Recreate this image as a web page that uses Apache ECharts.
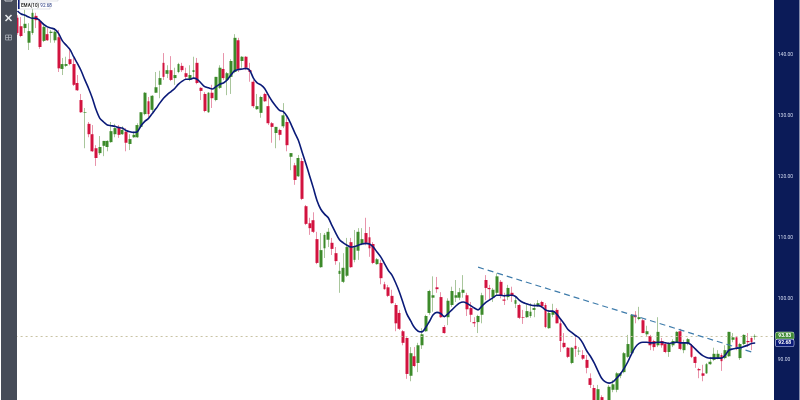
<!DOCTYPE html>
<html>
<head>
<meta charset="utf-8">
<style>
html,body{margin:0;padding:0;background:#fff;}
#main{width:800px;height:400px;filter:blur(0.35px);}
</style>
<script src="https://cdn.jsdelivr.net/npm/echarts@6/dist/echarts.min.js"></script>
</head>
<body>
<div id="main"></div>
<script>
// 价格数据
var opens = [
146.0,144.6,144.3,141.9,143.5,146.3,145.5,142.2,143.3,143.5,
142.3,142.8,137.6,138.1,139.2,138.4,135.3,132.5,130.4,128.6,
126.9,124.6,123.8,125.0,124.8,125.6,126.9,128.1,126.9,127.3,
125.3,126.4,126.4,128.1,130.2,132.3,130.9,133.7,135.0,138.6,
136.8,137.4,136.1,137.1,138.1,136.9,135.8,137.1,138.6,134.5,
133.5,130.5,133.7,132.5,134.5,137.6,135.8,136.3,137.1,142.3,
138.9,139.6,137.4,135.5,131.0,130.4,133.5,131.5,128.7,127.1,
127.6,128.2,128.9,123.2,121.8,120.0,122.5,115.1,112.3,112.8,
109.7,105.1,108.2,109.6,109.1,107.4,104.0,102.7,103.7,109.2,
106.3,107.8,108.9,110.7,110.0,108.9,105.6,105.8,102.3,101.8,
100.4,98.9,97.6,94.6,93.5,87.3,90.5,89.4,92.3,94.6,
97.6,100.1,101.8,100.2,95.3,96.9,98.9,100.1,100.1,100.9,
100.5,98.4,96.1,96.1,97.3,103.0,101.7,100.2,100.9,102.7,
99.8,100.2,100.9,99.1,98.9,96.9,96.9,97.1,98.1,98.7,
99.4,98.9,95.1,97.3,98.1,95.9,92.7,91.9,89.4,92.2,
91.3,90.7,89.9,86.9,85.3,83.0,83.8,83.0,83.0,85.0,
85.0,87.3,87.9,90.4,91.0,97.3,96.6,96.4,94.1,93.8,
93.0,92.3,93.0,92.5,91.2,92.3,92.8,94.6,91.5,92.5,
92.3,90.4,88.4,87.7,87.7,89.2,89.9,90.2,90.7,90.2,
90.5,93.2,93.6,90.2,92.5,93.0,93.5,93.7
];
var closes = [
143.5,143.0,145.0,143.8,146.8,145.6,141.2,144.5,142.3,143.7,
143.7,137.7,138.4,138.4,138.4,135.0,134.1,130.5,130.5,126.9,
124.1,123.0,124.8,125.8,125.8,127.4,127.9,126.8,127.6,125.5,
126.1,126.8,128.4,130.5,133.7,130.2,133.2,134.6,136.1,136.3,
137.4,135.8,136.6,138.4,137.4,136.3,136.6,137.4,135.3,134.0,
130.7,133.7,132.8,136.3,137.8,136.1,136.9,138.9,142.7,137.6,
139.6,137.8,137.1,131.5,131.5,133.0,132.3,128.7,128.1,128.1,
126.8,130.0,125.1,123.8,119.4,123.0,116.3,112.2,111.5,110.9,
105.8,107.9,110.4,110.9,108.1,106.1,104.5,105.0,108.4,105.1,
108.4,110.9,109.7,109.1,108.2,105.8,106.4,103.3,101.5,100.4,
99.2,95.9,95.0,92.7,87.6,91.0,88.9,92.3,94.1,97.1,
101.2,100.5,101.5,96.9,94.3,99.6,101.2,100.5,101.0,101.4,
98.2,97.3,95.9,97.1,100.5,101.7,101.5,101.4,103.6,100.5,
99.6,101.7,100.5,99.7,96.8,96.8,97.9,97.8,98.4,99.2,
98.7,95.3,97.6,97.9,95.9,93.0,92.0,90.4,91.9,91.7,
91.4,90.1,88.6,85.8,83.3,85.1,82.7,81.7,85.5,85.9,
87.7,87.7,91.0,92.5,97.3,96.9,96.9,94.3,94.6,92.3,
92.0,94.5,92.3,91.2,92.5,93.0,94.5,91.7,92.8,93.3,
90.4,89.4,88.2,87.3,89.2,89.6,90.9,90.9,89.7,91.5,
94.5,93.6,91.7,92.5,94.0,92.8,92.8,93.83
];
var lows = [
143.2,142.8,143.5,140.7,143.2,144.3,140.9,142.0,142.2,141.9,
141.9,137.1,136.6,137.9,138.2,134.8,134.0,130.4,124.6,126.4,
124.0,121.7,123.5,123.3,124.1,125.5,126.4,126.3,126.8,124.1,
124.3,126.3,126.3,127.9,130.0,129.7,130.5,133.7,132.8,135.8,
136.1,135.6,135.0,136.9,137.1,135.8,135.6,136.1,135.1,132.5,
130.5,130.4,131.2,132.3,134.3,135.8,133.3,133.5,136.9,137.1,
137.8,137.4,135.5,131.2,130.9,129.6,132.2,128.4,125.5,124.6,
125.9,127.9,124.1,121.0,118.6,119.9,116.1,112.0,110.4,110.7,
105.6,105.0,106.6,108.4,107.1,105.5,100.9,102.5,103.5,105.0,
105.9,106.3,108.7,108.7,106.8,105.6,105.5,102.3,101.4,100.2,
99.1,94.6,94.8,92.3,86.8,86.4,88.7,87.9,91.7,94.5,
97.3,97.8,100.9,96.8,94.2,95.6,98.6,99.4,99.7,100.1,
97.1,96.1,95.3,94.3,95.9,99.7,99.7,99.4,100.5,100.0,
98.9,99.7,99.4,98.4,96.6,95.8,96.8,96.8,96.9,98.6,
98.4,95.1,95.0,96.9,95.9,91.2,91.8,90.2,89.2,90.4,
90.7,89.9,87.7,85.3,83.0,82.7,82.3,81.4,82.8,84.6,
84.6,86.9,87.7,90.2,90.9,95.9,96.4,94.3,93.7,91.5,
91.4,92.0,91.9,91.0,90.4,92.0,92.7,91.5,91.0,92.3,
90.2,88.6,86.9,86.4,87.6,89.1,89.7,90.0,88.1,90.0,
90.4,92.8,91.5,89.9,92.3,92.0,91.5,93.2
];
var highs = [
146.4,146.1,147.3,145.1,147.6,146.8,145.8,145.1,144.3,144.0,
144.3,144.0,139.4,139.6,141.0,139.4,136.6,133.5,131.2,128.9,
128.4,125.1,126.6,125.8,125.9,128.9,128.6,128.4,128.2,127.9,
126.9,127.3,128.7,130.5,133.8,133.0,133.3,137.1,137.3,140.2,
138.2,139.7,137.8,138.6,138.6,137.8,138.2,139.6,139.4,134.6,
133.8,133.8,135.0,136.3,138.2,140.2,137.1,139.2,143.3,142.7,
139.7,139.7,138.6,135.8,133.5,133.2,133.7,133.3,128.9,128.1,
127.8,132.0,129.7,123.8,122.2,123.5,123.0,115.3,113.2,114.1,
110.9,110.7,110.7,111.5,109.9,108.4,105.9,107.4,109.9,109.9,
111.2,111.5,111.5,113.2,111.7,109.2,106.6,106.3,102.7,102.2,
101.4,99.2,98.1,94.8,93.6,92.0,92.0,92.7,95.1,97.3,
101.4,103.6,103.5,101.0,95.6,100.0,101.9,103.0,101.7,103.8,
100.9,99.4,96.9,97.3,100.9,103.8,102.2,101.7,104.1,103.0,
100.9,102.2,101.9,100.2,99.1,98.1,99.2,99.2,99.2,99.7,
99.6,99.2,98.1,99.1,98.4,96.8,94.3,92.0,92.0,93.6,
92.0,91.5,90.7,87.7,85.8,85.8,84.1,83.1,85.8,86.6,
87.9,87.9,91.2,94.0,97.3,97.9,98.6,96.6,95.5,94.0,
93.2,96.9,93.5,92.7,92.8,93.3,94.6,95.0,93.2,93.5,
92.5,90.5,88.6,89.1,89.4,90.4,91.9,91.5,91.0,92.3,
94.5,94.3,93.8,92.7,94.1,94.3,93.6,94.1
];
var ema10 = [
147.1,146.6,146.4,146.1,145.9,145.9,145.5,144.9,144.5,144.3,
144.1,143.4,142.2,141.5,140.8,139.6,138.5,137.3,135.8,134.4,
132.8,130.9,129.5,128.9,128.4,128.3,128.2,128.0,127.9,127.5,
127.3,127.2,127.3,128.3,129.0,129.5,130.3,131.1,132.0,132.8,
133.4,133.9,134.4,135.1,135.6,135.9,135.9,136.1,135.9,135.3,
134.7,134.5,134.3,134.7,135.1,135.3,135.8,136.6,137.3,137.5,
137.6,137.7,137.4,136.1,135.3,135.0,134.4,133.3,132.3,131.5,
130.8,130.6,129.8,128.6,127.2,125.9,124.0,122.1,120.1,118.1,
116.0,114.6,113.8,113.2,111.9,110.7,109.6,109.1,108.7,108.4,
108.5,108.7,108.9,109.0,108.9,108.4,107.6,106.8,105.7,104.6,
103.8,102.5,101.0,99.2,97.4,96.3,95.2,94.6,94.5,95.2,
96.2,97.3,97.7,97.5,97.0,97.5,98.1,98.7,99.2,99.4,
99.2,98.8,98.4,98.1,98.7,99.3,99.7,100.1,100.5,100.5,
100.4,100.5,100.5,100.3,99.7,99.3,99.1,98.9,98.8,98.8,
98.6,98.1,97.9,97.9,97.4,96.6,95.8,94.9,94.4,93.9,
93.5,92.6,91.4,90.5,89.4,88.1,86.9,86.3,86.1,86.3,
86.9,87.6,88.5,89.6,90.9,92.0,92.6,92.8,92.8,92.7,
92.7,92.8,92.8,92.7,92.6,92.7,92.8,92.7,92.7,92.7,
92.3,91.7,91.1,90.6,90.3,90.2,90.2,90.2,90.2,90.7,
91.5,91.7,91.8,91.9,92.1,92.3,92.6,92.68
];
var lastPrice = 93.83;
var lastEma = 92.68;
// 趋势线: 起点和终点 [序号, 价格]
var trendStart = [123, 105.1];
var trendEnd = [196, 91.2];
var yMin = 80, yMax = 150, yStep = 10;

var slots = 203; // 右侧留几根空位
var categories = [];
for (var i = 0; i < slots; i++) {
	categories.push(String(i));
}
var wickData = [], bodyData = [];
for (var j = 0; j < opens.length; j++) {
	wickData.push([opens[j], closes[j], lows[j], highs[j]]);
	bodyData.push([opens[j], closes[j], Math.min(opens[j], closes[j]), Math.max(opens[j], closes[j])]);
}

var green = '#3c8a2a', red = '#d2133f', navy = '#0a1a78';
var myChart = echarts.init(document.getElementById('main'), null, {renderer: 'canvas'});
var option = {
	animation: false,
	backgroundColor: '#fff',
	grid: {left: 15.6, top: -6.7, width: 760.2, height: 427, outerBoundsMode: 'none', containLabel: false},
	xAxis: {
		type: 'category',
		data: categories,
		show: false
	},
	yAxis: {
		type: 'value',
		position: 'right',
		min: yMin,
		max: yMax,
		interval: yStep,
		z: 10,
		axisLine: {show: false},
		axisTick: {show: false},
		splitLine: {show: false},
		axisLabel: {
			color: '#cdd5ec',
			fontSize: 5,
			fontFamily: 'Roboto',
			margin: 2,
			formatter: function (v) { return v.toFixed(2); }
		}
	},
	series: [
		{
			// 影线
			type: 'candlestick',
			data: wickData,
			barWidth: 1,
			itemStyle: {
				color: '#a9c69c', color0: '#e894ab',
				borderColor: '#a9c69c', borderColor0: '#e894ab',
				borderWidth: 1
			},
			markLine: {
				silent: true,
				symbol: 'none',
				animation: false,
				data: [
					{
						yAxis: lastPrice,
						lineStyle: {color: '#c9c3a4', type: [2, 3], width: 1},
						label: {
							show: true, position: 'end', formatter: lastPrice.toFixed(2),
							color: '#fff', fontSize: 5, fontWeight: 'bold', fontFamily: 'Roboto',
							backgroundColor: '#3f8a35', borderColor: '#bcd8b0', borderWidth: 0.6,
							borderRadius: 1.5, padding: [1, 2.5], distance: 0
						}
					},
					{
						yAxis: lastEma,
						lineStyle: {color: 'rgba(0,0,0,0)'},
						label: {
							show: true, position: 'end', formatter: lastEma.toFixed(2),
							color: '#fff', fontSize: 5, fontWeight: 'bold', fontFamily: 'Roboto',
							backgroundColor: navy, borderColor: '#d5dcf2', borderWidth: 0.6,
							borderRadius: 1.5, padding: [1, 2.5], distance: 0
						}
					},
					[
						{coord: trendStart, lineStyle: {color: '#3f7cab', type: [6, 4], width: 1.2}, label: {show: false}},
						{coord: trendEnd}
					]
				]
			}
		},
		{
			// 实体
			type: 'candlestick',
			data: bodyData,
			barWidth: 3.4,
			itemStyle: {
				color: green, color0: red,
				borderColor: green, borderColor0: red,
				borderWidth: 0
			}
		},
		{
			name: 'EMA(10)',
			type: 'line',
			data: ema10,
			showSymbol: false,
			smooth: 0.3,
			z: 5,
			lineStyle: {color: navy, width: 1.6}
		}
	],
	graphic: [
		// 右侧价格轴底色
		{type: 'rect', z: 0, shape: {x: 774, y: 0, width: 25.5, height: 400}, style: {fill: '#0b1b58'}},
		// 左侧工具栏
		{type: 'rect', z: 20, shape: {x: 1, y: 0, width: 16, height: 400}, style: {fill: '#464c58'}},
		{type: 'rect', z: 21, shape: {x: 5, y: -2, width: 7, height: 3}, style: {fill: 'none', stroke: '#c9ccd2', lineWidth: 1}},
		{type: 'line', z: 21, shape: {x1: 5.5, y1: 15, x2: 11.5, y2: 21}, style: {stroke: '#e6e8ec', lineWidth: 1.6}},
		{type: 'line', z: 21, shape: {x1: 11.5, y1: 15, x2: 5.5, y2: 21}, style: {stroke: '#e6e8ec', lineWidth: 1.6}},
		{type: 'rect', z: 21, shape: {x: 5.5, y: 35, width: 6, height: 5}, style: {fill: 'none', stroke: '#b5b9c1', lineWidth: 0.7}},
		{type: 'line', z: 21, shape: {x1: 8.5, y1: 35, x2: 8.5, y2: 40}, style: {stroke: '#b5b9c1', lineWidth: 0.7}},
		{type: 'line', z: 21, shape: {x1: 5.5, y1: 37.5, x2: 11.5, y2: 37.5}, style: {stroke: '#b5b9c1', lineWidth: 0.7}},
		// 图例
		{type: 'rect', z: 21, shape: {x: 18, y: -6, width: 40, height: 7}, style: {fill: '#fff', stroke: '#cfd2d8', lineWidth: 0.6}},
		{type: 'rect', z: 21, shape: {x: 18, y: 3, width: 32, height: 6}, style: {fill: '#fff', stroke: '#cfd2d8', lineWidth: 0.6}},
		{type: 'rect', z: 22, shape: {x: 18, y: 0, width: 1.6, height: 9}, style: {fill: navy}},
		{
			type: 'text', z: 22, x: 21, y: 3.6,
			style: {
				text: '{a|EMA(10)}{b| ' + lastEma.toFixed(2) + '}',
				rich: {
					a: {fill: '#333', fontSize: 4.6, fontWeight: 'bold', fontFamily: 'Roboto'},
					b: {fill: '#22357f', fontSize: 4.6, fontFamily: 'Roboto'}
				}
			}
		}
	]
};
myChart.setOption(option);
</script>
</body>
</html>
